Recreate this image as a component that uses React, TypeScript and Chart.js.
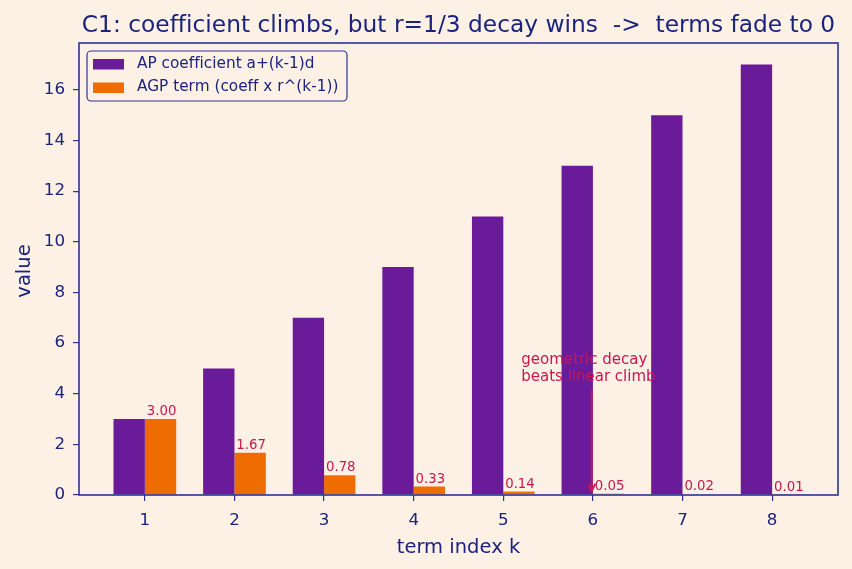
import React, { useEffect, useRef } from "react";
import { Chart, registerables } from "chart.js";

Chart.register(...registerables);

const TITLE = "C1: coefficient climbs, but r=1/3 decay wins  ->  terms fade to 0";
const X_LABEL = "term index k";
const Y_LABEL = "value";
const K_VALUES = [1, 2, 3, 4, 5, 6, 7, 8];
const AP_COEFF = [3, 5, 7, 9, 11, 13, 15, 17];
const AGP_TERM = [3.0, 1.667, 0.778, 0.333, 0.136, 0.053, 0.021, 0.008];
const AGP_LABELS = ["3.00", "1.67", "0.78", "0.33", "0.14", "0.05", "0.02", "0.01"];
const Y_TICKS = [0, 2, 4, 6, 8, 10, 12, 14, 16];
const LEGEND_LABELS = ["AP coefficient a+(k-1)d", "AGP term (coeff x r^(k-1))"];
const ANNOT_LINES = ["geometric decay", "beats linear climb"];
const ANNOT_TEXT_POS = { x: 5.2, y: 4.5 };
const ANNOT_TARGET = { x: 6, y: 0.05 };

const BG = "#fdf1e6";
const NAVY = "#1a237e";
const FRAME = "#283593";
const PURPLE = "#6a1b9a";
const ORANGE = "#ef6c00";
const CRIMSON = "#c8174f";
const FONT = "'DejaVu Sans', sans-serif";

const overlayPlugin = {
  id: "overlay",
  beforeDraw(chart: any) {
    const { ctx, width, height } = chart;
    ctx.save();
    ctx.fillStyle = BG;
    ctx.fillRect(0, 0, width, height);
    ctx.restore();
  },
  afterDraw(chart: any) {
    const { ctx, chartArea } = chart;
    const xs = chart.scales.x;
    const ys = chart.scales.y;
    const { left, right, top, bottom } = chartArea;
    ctx.save();

    // value labels over AGP bars
    const meta = chart.getDatasetMeta(1);
    ctx.fillStyle = CRIMSON;
    ctx.font = `13.3px ${FONT}`;
    ctx.textAlign = "center";
    ctx.textBaseline = "alphabetic";
    meta.data.forEach((bar: any, i: number) => {
      ctx.fillText(AGP_LABELS[i], bar.x + 1, bar.y - 4);
    });

    // annotation
    const tx = xs.getPixelForValue(ANNOT_TEXT_POS.x);
    const ty = ys.getPixelForValue(ANNOT_TEXT_POS.y);
    ctx.font = `15px ${FONT}`;
    ctx.textAlign = "left";
    const lh = 17.5;
    ANNOT_LINES.forEach((line, i) => {
      ctx.fillText(line, tx, ty - (ANNOT_LINES.length - 1 - i) * lh);
    });
    const ax = xs.getPixelForValue(ANNOT_TARGET.x) - 1.2;
    const ay0 = ty + 9;
    const ay1 = ys.getPixelForValue(ANNOT_TARGET.y) - 2;
    ctx.strokeStyle = CRIMSON;
    ctx.lineWidth = 1.8;
    ctx.beginPath();
    ctx.moveTo(ax, ay0);
    ctx.lineTo(ax, ay1);
    ctx.moveTo(ax - 3.5, ay1 - 8);
    ctx.lineTo(ax, ay1);
    ctx.lineTo(ax + 3.5, ay1 - 8);
    ctx.stroke();

    // frame
    ctx.strokeStyle = FRAME;
    ctx.lineWidth = 1.6;
    ctx.strokeRect(left, top, right - left, bottom - top);

    // title (letterSpacing tiny to avoid ligatures)
    try { (ctx as any).letterSpacing = "0.01px"; } catch (e) {}
    ctx.fillStyle = NAVY;
    ctx.font = `23.3px ${FONT}`;
    ctx.textAlign = "center";
    ctx.textBaseline = "alphabetic";
    ctx.fillText(TITLE, (left + right) / 2, top - 11);

    // axis labels
    ctx.font = `19.5px ${FONT}`;
    ctx.fillText(X_LABEL, (left + right) / 2, 553);
    ctx.save();
    ctx.translate(30, (top + bottom) / 2 + 2);
    ctx.rotate(-Math.PI / 2);
    ctx.fillText(Y_LABEL, 0, 0);
    ctx.restore();

    // legend
    const lx = left + 8;
    const ly = top + 8;
    const lw = 260;
    const lhh = 50;
    ctx.fillStyle = "rgba(253,241,230,0.8)";
    ctx.strokeStyle = FRAME;
    ctx.lineWidth = 1.2;
    ctx.beginPath();
    (ctx as any).roundRect(lx, ly, lw, lhh, 4);
    ctx.fill();
    ctx.stroke();
    const colors = [PURPLE, ORANGE];
    ctx.font = `15.3px ${FONT}`;
    ctx.textAlign = "left";
    ctx.textBaseline = "middle";
    LEGEND_LABELS.forEach((lab, i) => {
      const cy = ly + 13 + i * 23.5;
      ctx.fillStyle = colors[i];
      ctx.fillRect(lx + 6, cy - 5, 31, 10.5);
      ctx.fillStyle = NAVY;
      ctx.fillText(lab, lx + 50, cy);
    });

    ctx.restore();
  },
};

export default function App() {
  const ref = useRef<HTMLCanvasElement | null>(null);
  useEffect(() => {
    document.body.style.margin = "0";
    const canvas = ref.current!;
    const chart = new Chart(canvas, {
      type: "bar",
      data: {
        datasets: [
          {
            label: LEGEND_LABELS[0],
            data: K_VALUES.map((k, i) => ({ x: k, y: AP_COEFF[i] })),
            backgroundColor: PURPLE,
            categoryPercentage: 0.7,
            barPercentage: 1,
          },
          {
            label: LEGEND_LABELS[1],
            data: K_VALUES.map((k, i) => ({ x: k, y: AGP_TERM[i] })),
            backgroundColor: ORANGE,
            categoryPercentage: 0.7,
            barPercentage: 1,
          },
        ],
      },
      options: {
        animation: false,
        responsive: false,
        maintainAspectRatio: false,
        layout: { padding: { left: 0, right: 14, top: 43, bottom: 0 } },
        plugins: { legend: { display: false }, title: { display: false }, tooltip: { enabled: false } },
        scales: {
          x: {
            type: "linear",
            min: 0.265,
            max: 8.735,
            offset: false,
            afterBuildTicks: (s: any) => {
              s.ticks = K_VALUES.map((v) => ({ value: v }));
            },
            afterFit: (s: any) => {
              s.height = 74;
            },
            grid: { display: true, offset: false, drawOnChartArea: false, drawTicks: true, tickLength: 6, color: FRAME, lineWidth: 1.2 },
            border: { display: false },
            ticks: { color: NAVY, font: { family: FONT, size: 16.7 }, padding: 10, maxRotation: 0, autoSkip: false, callback: (v: any) => String(v) },
          },
          y: {
            type: "linear",
            min: 0,
            max: 17.85,
            afterBuildTicks: (s: any) => {
              s.ticks = Y_TICKS.map((v) => ({ value: v }));
            },
            afterFit: (s: any) => {
              s.width = 79;
            },
            grid: { display: true, drawOnChartArea: false, drawTicks: true, tickLength: 6, color: FRAME, lineWidth: 1.2 },
            border: { display: false },
            ticks: { color: NAVY, font: { family: FONT, size: 16.7 }, padding: 8, callback: (v: any) => String(v) },
          },
        },
      },
      plugins: [overlayPlugin],
    });
    return () => chart.destroy();
  }, []);
  return (
    <div style={{ width: 852, height: 569, background: BG }}>
      <canvas ref={ref} width={852} height={569} style={{ display: "block", width: 852, height: 569 }} />
    </div>
  );
}
